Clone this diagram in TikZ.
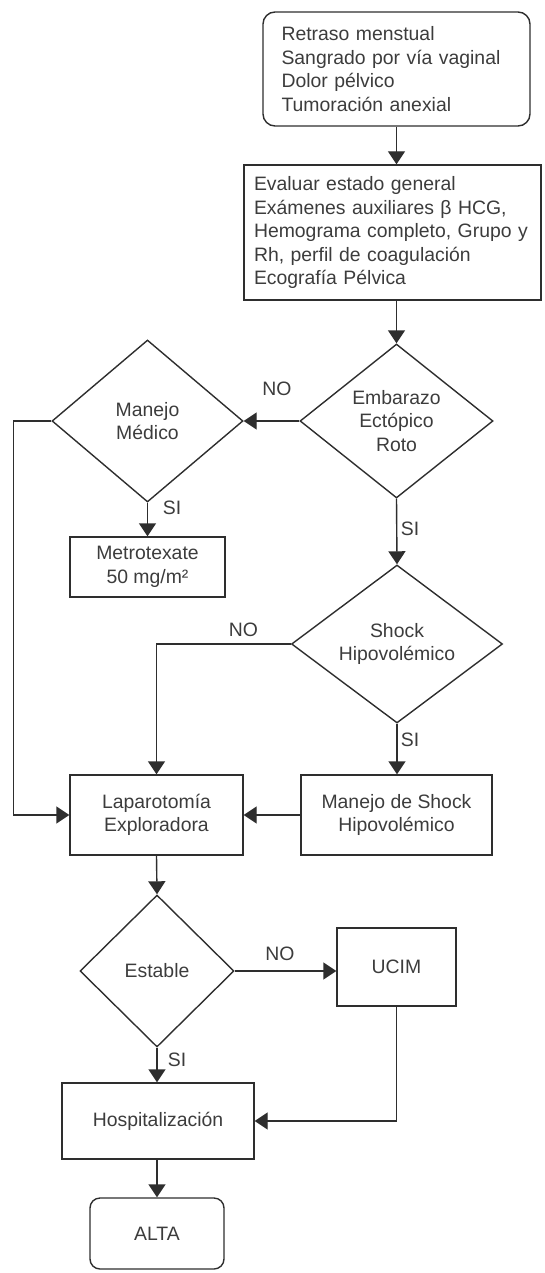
\documentclass[tikz,border=0pt]{standalone}
\usepackage{fontspec}
\setmainfont{Liberation Sans}
\usetikzlibrary{arrows.meta,shapes.geometric}
\definecolor{flinea}{HTML}{2E2E2E}
\definecolor{ftexto}{HTML}{3C3C3C}

\begin{document}
\begin{tikzpicture}[x=1pt, y=-1pt, font=\fontsize{19.4}{23.5}\selectfont, >={Triangle[length=13pt,width=17pt]},
  caja/.style={draw=flinea, line width=1.4pt, text=ftexto, align=center, inner sep=0pt},
  inicio/.style={caja, rounded corners=12pt},
  rombo/.style={caja, shape=diamond},
  etiq/.style={text=ftexto, inner sep=0pt},
  flecha/.style={->, draw=flinea, line width=1.4pt}]
  \useasboundingbox (0,0) rectangle (544,1273);

  % cuadros y rombos
  \node[inicio, align=left, text width=230pt, minimum width=267pt, minimum height=114pt] (sintomas) at (396.5,69)
    {Retraso menstual\\Sangrado por vía vaginal\\Dolor pélvico\\Tumoración anexial};
  \node[caja, align=left, text width=277pt, minimum width=297pt, minimum height=135pt] (evaluar) at (392.5,232.5)
    {Evaluar estado general\\Exámenes auxiliares β HCG,\\Hemograma completo, Grupo y\\Rh, perfil de coagulación\\Ecografía Pélvica};
  \node[rombo, minimum width=193pt, minimum height=154pt] (embarazo) at (396.5,421) {Embarazo\\Ectópico\\Roto};
  \node[rombo, minimum width=191pt, minimum height=162pt] (medico) at (147.5,421) {Manejo\\Médico};
  \node[caja, minimum width=155pt, minimum height=60pt] (metro) at (147.5,567) {Metrotexate\\50 mg/m²};
  \node[rombo, minimum width=211pt, minimum height=156pt] (shock) at (397,644) {Shock\\Hipovolémico};
  \node[caja, minimum width=173pt, minimum height=80pt] (lapa) at (156.5,815) {Laparotomía\\Exploradora};
  \node[caja, minimum width=191pt, minimum height=80pt] (mshock) at (396.5,815) {Manejo de Shock\\Hipovolémico};
  \node[rombo, minimum width=154pt, minimum height=152pt] (estable) at (157,971) {Estable};
  \node[caja, minimum width=119pt, minimum height=78pt] (ucim) at (396.5,967) {UCIM};
  \node[caja, minimum width=192pt, minimum height=76pt] (hosp) at (158,1121) {Hospitalización};
  \node[inicio, rounded corners=10pt, minimum width=134pt, minimum height=71pt] (alta) at (157,1233.5) {ALTA};

  % etiquetas
  \node[etiq] (no1) at (277,389) {NO};
  \node[etiq] (si1) at (410,529) {SI};
  \node[etiq] (si2) at (172,508) {SI};
  \node[etiq] (no2) at (243.5,630) {NO};
  \node[etiq] (si3) at (410,740) {SI};
  \node[etiq] (no3) at (280,954) {NO};
  \node[etiq] (si4) at (177,1060) {SI};

  % flechas
  \draw[flecha] (sintomas.south) -- (sintomas.south |- evaluar.north);
  \draw[flecha] (embarazo.north |- evaluar.south) -- (embarazo.north);
  \draw[flecha] (embarazo.west) -- (medico.east);
  \draw[flecha] (embarazo.south) -- (shock.north);
  \draw[flecha] (medico.south) -- (metro.north);
  \draw[flecha] (medico.west) -- ++(-38,0) |- (lapa.west);
  \draw[flecha] (shock.west) -| (lapa.north);
  \draw[flecha] (shock.south) -- (shock.south |- mshock.north);
  \draw[flecha] (mshock.west) -- (lapa.east);
  \draw[flecha] (lapa.south) -- (estable.north);
  \draw[flecha] (estable.east) -- (estable.east -| ucim.west);
  \draw[flecha] (ucim.south) |- (hosp.east);
  \draw[flecha] (estable.south) -- (estable.south |- hosp.north);
  \draw[flecha] (alta.north |- hosp.south) -- (alta.north);
\end{tikzpicture}
\end{document}
